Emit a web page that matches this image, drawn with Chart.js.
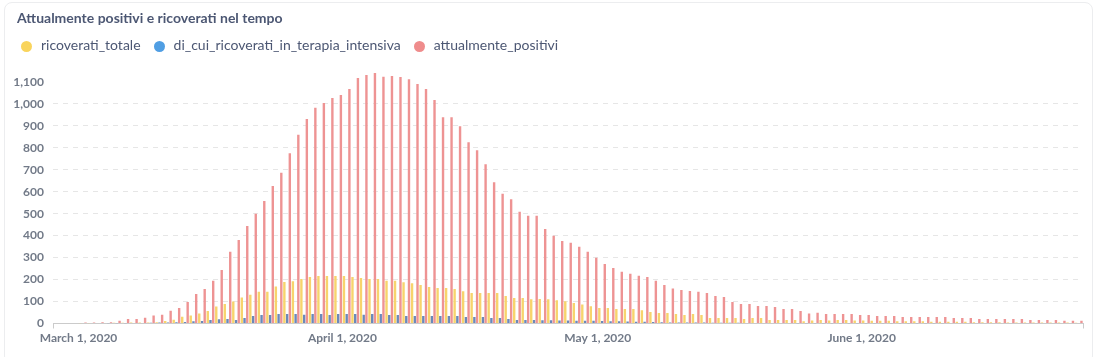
<!DOCTYPE html>
<html><head><meta charset="utf-8">
<script src="https://cdn.jsdelivr.net/npm/chart.js@4.4.1/dist/chart.umd.min.js"></script>
<style>
html,body{margin:0;padding:0;background:#fff;}
body{width:1096px;height:357px;overflow:hidden;position:relative;font-family:Lato,sans-serif;}
#card{position:absolute;left:4px;top:2px;width:1089px;height:362px;border:1px solid #ECEDEF;border-radius:8px;box-sizing:border-box;}
#wrap{position:absolute;left:0;top:0;width:1096px;height:357px;}
#title{position:absolute;left:17px;top:11px;font-size:14px;font-weight:700;color:#4C5773;line-height:14px;white-space:nowrap;}
#legend{position:absolute;left:21px;top:38px;display:flex;align-items:center;font-size:14px;color:#4C5773;line-height:14px;white-space:nowrap;}
.item{display:flex;align-items:center;margin-right:13px;}
.dot{width:11px;height:11px;border-radius:50%;margin-right:9px;position:relative;top:1px;}
</style></head>
<body>
<div id="card"></div>
<div id="wrap"><canvas id="c"></canvas></div>
<div id="title">Attualmente positivi e ricoverati nel tempo</div>
<div id="legend"></div>
<script>
// First day of data (one value per day)
const startDate = '2020-03-01';
const axisDaysBefore = 3;

const ricoveratiTotale = [
  1, 1, 2, 2, 3, 3, 4, 5,
  5, 6, 11, 17, 31, 36, 45, 57, 77, 89, 100, 118, 131, 144, 144, 168, 189,
  192, 203, 212, 216, 216, 216, 216, 212, 207, 203, 203, 194, 194, 188, 183, 175, 166, 162, 162, 157, 147, 139, 139, 139, 139, 125, 116, 116, 110,
  112, 110, 106, 101, 93, 87, 78, 71, 71, 66, 66, 66, 60, 52, 48, 48, 43, 39, 43, 39, 25, 25, 25, 25, 20, 25, 25, 16, 16, 16, 16, 10,
  14, 16, 14, 16, 16, 14, 14, 12, 12, 12, 10, 10, 10, 10, 8, 8, 8, 8, 8, 6, 6, 6, 6, 5, 5, 5, 4, 4, 4, 4, 4, 3
];
const terapiaIntensiva = [
  0, 0, 0, 1, 1, 1, 2, 2,
  3, 4, 5, 6,
  7, 10, 11, 16, 19, 20, 16, 25, 34, 39, 39, 43, 43,
  43, 40, 43, 43, 39, 43, 43, 43, 40, 43, 43, 39, 39, 34, 34, 34, 34, 34, 34, 34, 30, 30, 30, 25, 25, 20, 16, 16, 16,
  15, 15, 14, 14, 13, 12, 12, 11, 10, 10, 9, 8, 8, 7, 6, 5, 5, 4, 4, 4, 3, 3, 3, 3, 2, 2, 2, 2, 2, 2, 1, 1,
  1, 1, 1, 1, 1, 1, 1, 1, 1, 1, 1, 1, 1, 1, 1, 1, 0, 0, 0, 0, 0, 0, 0, 0, 0, 0, 0, 0, 0, 0, 0, 0
];
const attualmentePositivi = [
  4, 4, 6, 6, 12, 21, 21, 26, 36, 40, 58, 71, 98, 134, 157, 194, 244, 326, 380, 444, 500, 558, 626, 686, 775,
  859, 931, 982, 1004, 1026, 1040, 1067, 1117, 1131, 1140, 1123, 1126, 1122, 1112, 1090, 1067, 1017, 939, 939, 898, 825, 789, 725, 643, 590, 566, 508, 490,
  490, 430, 399, 376, 367, 349, 326, 299, 271, 253, 235, 226, 217, 212, 194, 175, 159, 153, 148, 144, 139, 125, 121, 98, 89, 89, 80, 80, 75, 66, 66, 57, 46,
  49, 43, 43, 43, 43, 39, 39, 34, 34, 34, 30, 30, 30, 30, 30, 30, 25, 25, 25, 20, 20, 20, 20, 20, 20, 16, 16, 16, 16, 12, 12, 12
];

const seriesNames = ['ricoverati_totale', 'di_cui_ricoverati_in_terapia_intensiva', 'attualmente_positivi'];
const legendColors = ['#F9D45C', '#509EE3', '#EF8C8C'];
const barColors = ['#F7D46C', '#6A89BA', '#EE9393'];

const tickDates = ['2020-03-01', '2020-04-01', '2020-05-01', '2020-06-01'];
const tickLabels = ['March 1, 2020', 'April 1, 2020', 'May 1, 2020', 'June 1, 2020'];
const yStep = 100;

// ---- build
const DAY = 86400000;
const t0 = Date.parse(startDate + 'T00:00:00Z');
const dayOffset = d => Math.round((Date.parse(d + 'T00:00:00Z') - t0) / DAY);
const days = attualmentePositivi.map((_, i) => new Date(t0 + i * DAY).toISOString().slice(0, 10));
const tickOffsets = tickDates.map(dayOffset);
const series = [ricoveratiTotale, terapiaIntensiva, attualmentePositivi];

// legend
const lg = document.getElementById('legend');
seriesNames.forEach((n, j) => {
  const it = document.createElement('div'); it.className = 'item';
  const d = document.createElement('span'); d.className = 'dot'; d.style.background = legendColors[j];
  const t = document.createElement('span'); t.textContent = n;
  it.appendChild(d); it.appendChild(t); lg.appendChild(it);
});

const tickFont = { family: 'Lato', size: 12, weight: 'bold' };
const tickColor = '#727A88';

new Chart(document.getElementById('c'), {
  type: 'bar',
  data: {
    datasets: series.map((s, j) => ({
      label: seriesNames[j],
      data: s.map((v, i) => ({ x: dayOffset(days[i]) + 0.5, y: v })),
      backgroundColor: barColors[j],
      borderWidth: 0,
      categoryPercentage: 0.96,
      barPercentage: 0.88
    }))
  },
  options: {
    responsive: true,
    maintainAspectRatio: false,
    animation: false,
    events: [],
    layout: { padding: { top: 73, right: 13, left: 0, bottom: 0 } },
    plugins: { legend: { display: false }, title: { display: false }, tooltip: { enabled: false } },
    scales: {
      x: {
        type: 'linear',
        min: -axisDaysBefore,
        max: days.length,
        offset: false,
        afterBuildTicks: s => {
          s.ticks = [{ value: s.min }].concat(tickOffsets.map(v => ({ value: v })), [{ value: s.max }]);
        },
        afterFit: s => { s.height = 33.5; },
        grid: {
          display: true, offset: false, drawOnChartArea: false, drawTicks: true, tickLength: 5,
          color: c => (c.tick && (c.tick.value === -axisDaysBefore || c.tick.value === days.length)) ? '#CBCBCB' : 'rgba(0,0,0,0)',
          tickColor: c => (c.tick && (c.tick.value === -axisDaysBefore || c.tick.value === days.length)) ? '#CBCBCB' : 'rgba(0,0,0,0)'
        },
        border: { display: true, color: '#CBCBCB' },
        ticks: {
          autoSkip: false, maxRotation: 0, minRotation: 0, padding: 2,
          color: tickColor, font: tickFont,
          callback: v => { const i = tickOffsets.indexOf(v); return i >= 0 ? tickLabels[i] : ''; }
        }
      },
      y: {
        min: 0,
        max: Math.max(...attualmentePositivi),
        afterBuildTicks: s => {
          const t = [];
          for (let v = 0; v <= s.max; v += yStep) t.push({ value: v });
          s.ticks = t;
        },
        afterFit: s => { s.width = 53; },
        grid: {
          drawTicks: false, lineWidth: 1,
          color: c => (c.index === 0 || c.index === c.scale.ticks.length - 1) ? 'rgba(0,0,0,0)' : '#E6E6E6'
        },
        border: { display: false, dash: [5, 5] },
        ticks: {
          stepSize: yStep, padding: 9, color: tickColor, font: tickFont,
          callback: v => v.toLocaleString('en-US')
        }
      }
    }
  }
});
</script>
</body></html>
